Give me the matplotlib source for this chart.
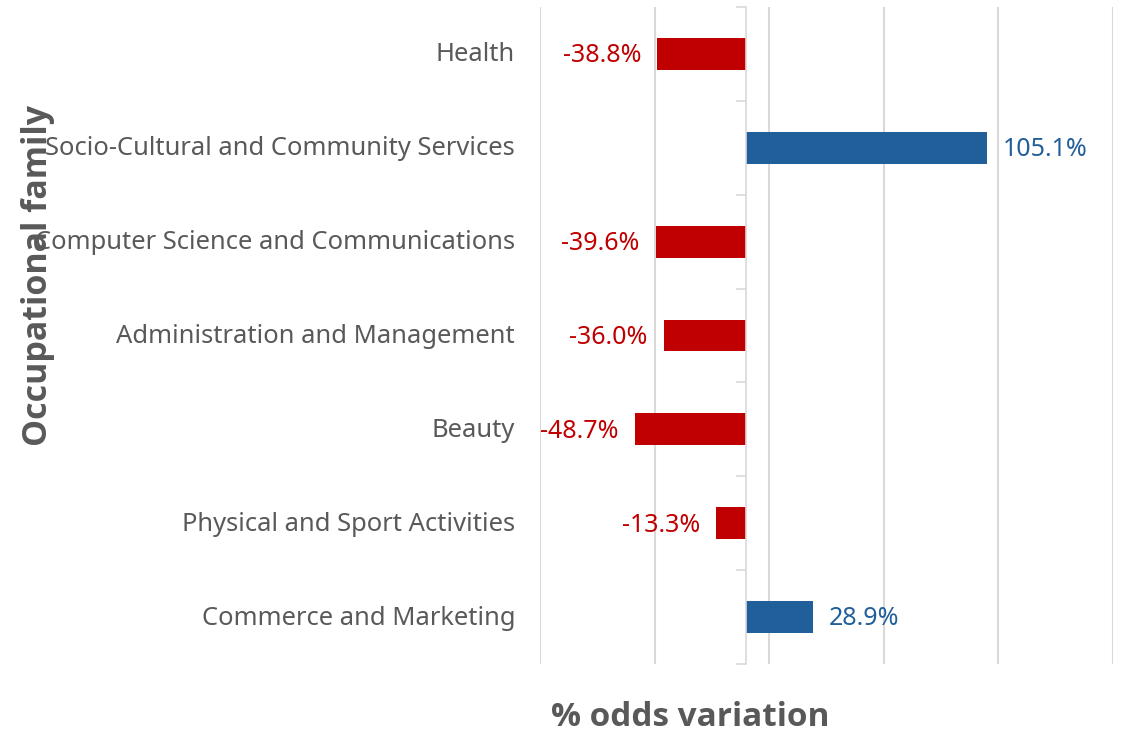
import matplotlib.pyplot as plt
from matplotlib.ticker import FixedLocator

categories = ["Health", "Socio-Cultural and Community Services",
              "Computer Science and Communications", "Administration and Management",
              "Beauty", "Physical and Sport Activities", "Commerce and Marketing"]
values = [-38.8, 105.1, -39.6, -36.0, -48.7, -13.3, 28.9]

red = "#C00000"
blue = "#215F9A"
grey = "#595959"
grid = "#D9D9D9"

plt.rcParams['font.family'] = ['Noto Sans', 'DejaVu Sans']

fig = plt.figure(figsize=(11.22, 7.34), dpi=100)
ax = fig.add_axes([540/1122, 1 - 664/734, 573/1122, 657/734])

pos = list(range(len(categories)))
colors = [red if v < 0 else blue for v in values]
ax.barh(pos, values, height=0.34, color=colors, zorder=3)

ax.set_xlim(-90, 160)
ax.set_ylim(len(categories) - 0.5, -0.5)
ax.xaxis.set_major_locator(FixedLocator([-90, -40, 10, 60, 110, 160]))
ax.grid(axis='x', color=grid, linewidth=1.5, zorder=0)
ax.tick_params(axis='x', length=0, labelbottom=False)

for s in ['top', 'right', 'bottom']:
    ax.spines[s].set_visible(False)
ax.spines['left'].set_position(('data', 0))
ax.spines['left'].set_color(grid)
ax.spines['left'].set_linewidth(1.2)
ax.spines['left'].set_zorder(4)
ax.set_yticks(pos)
ax.set_yticklabels([])
ax.tick_params(axis='y', which='major', length=0)
ax.set_yticks([p - 0.5 for p in pos] + [len(pos) - 0.5], minor=True)
ax.tick_params(axis='y', which='minor', length=7, width=1.2, color=grid, direction='out')

# category labels
for p, c in zip(pos, categories):
    ax.text(-25/573, p + 0.01, c, transform=ax.get_yaxis_transform(), ha='right',
            va='center', fontsize=18.4, color=grey)

# data labels
for p, v, col in zip(pos, values, colors):
    off = 7 if v >= 0 else -7
    ax.text(v + off, p + 0.02, f"{v:.1f}%", ha='left' if v >= 0 else 'right',
            va='center', fontsize=18, color=col)

fig.text(690/1122, 1 - 718/734, "% odds variation", ha='center', va='center',
         fontsize=24, fontweight='bold', color=grey, family='Open Sans')
fig.text(38/1122, 1 - 275/734, "Occupational family", ha='center', va='center',
         rotation=90, fontsize=24.5, fontweight='bold', color=grey, family='Open Sans')

fig.savefig("out.png", dpi=100)
